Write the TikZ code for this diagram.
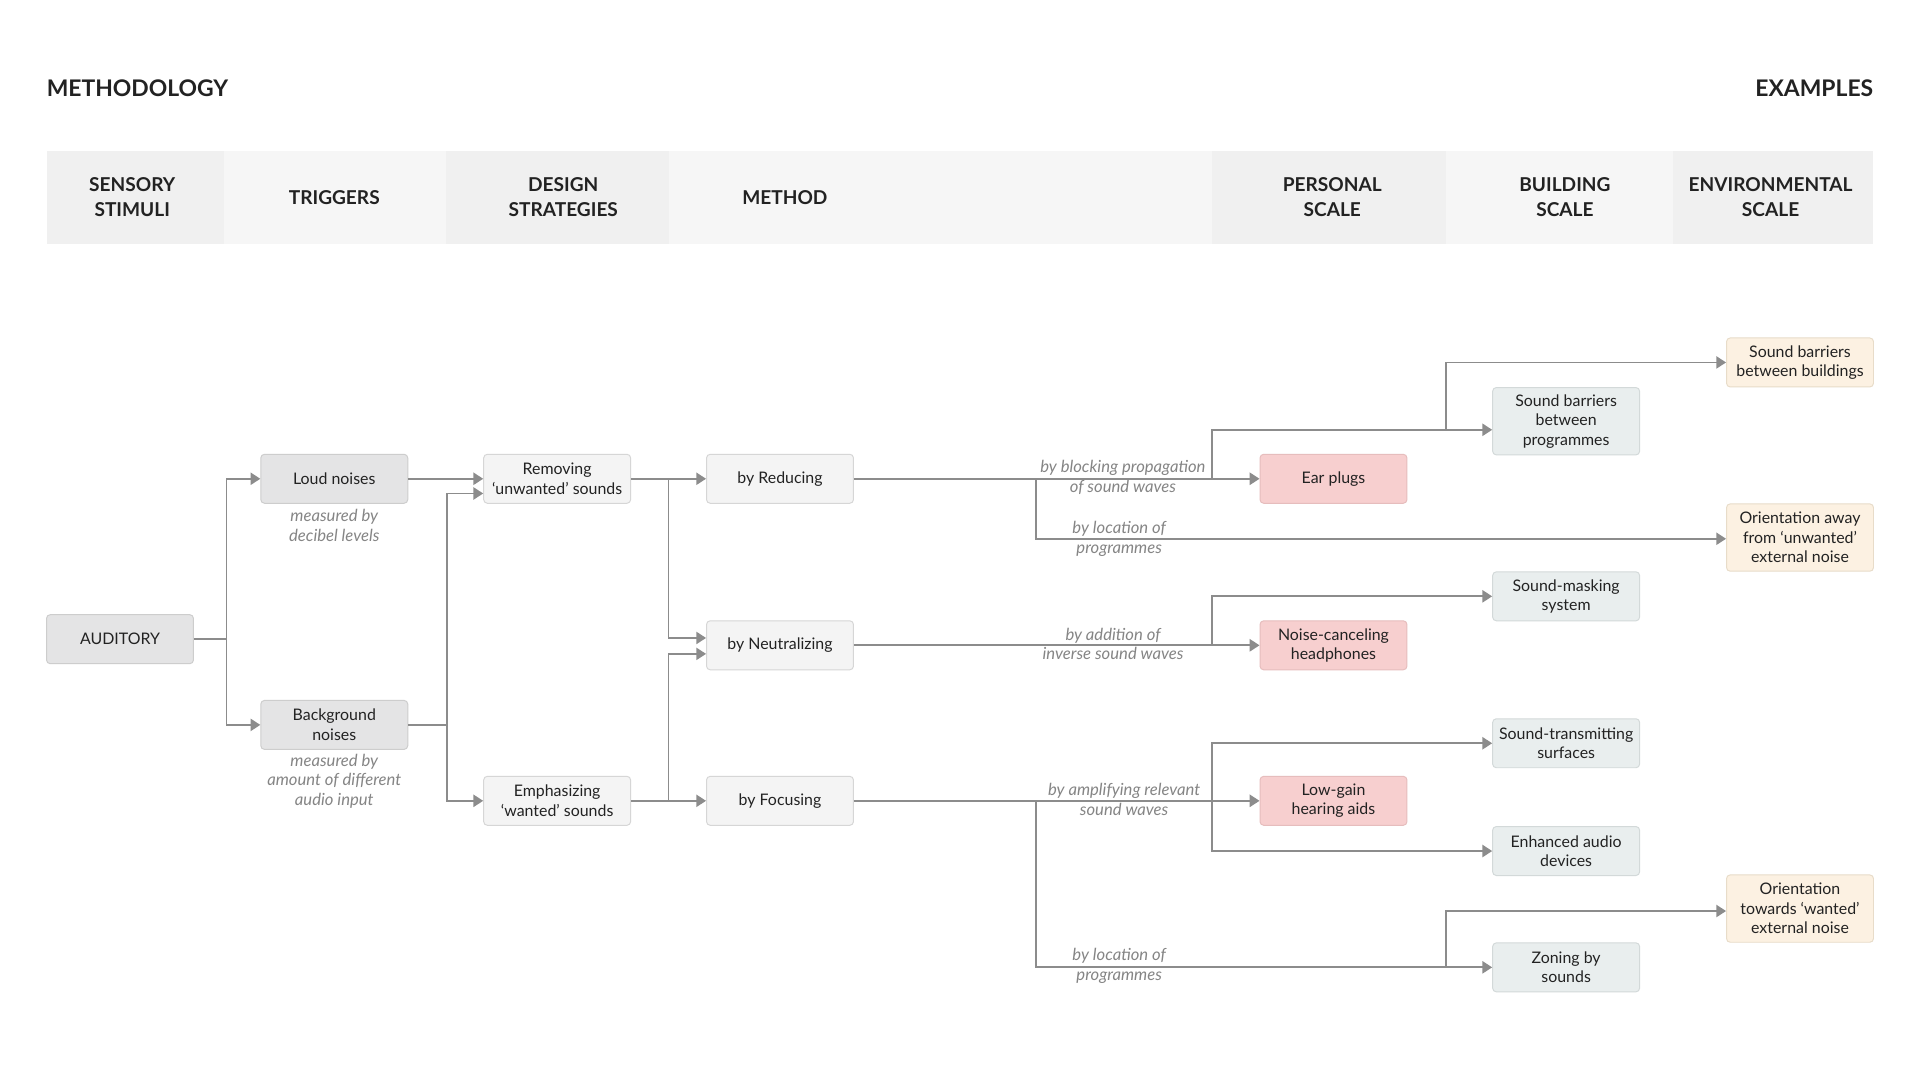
\documentclass[tikz,border=0pt]{standalone}
\usepackage{fontspec}
\setmainfont{Lato}
\usetikzlibrary{arrows.meta}

\definecolor{linegray}{HTML}{8C8C8C}
\definecolor{labelgray}{HTML}{858585}
\definecolor{textdark}{HTML}{222222}
\definecolor{hdrdark}{HTML}{F0F0F0}
\definecolor{hdrlight}{HTML}{F6F6F6}
\definecolor{stimfill}{HTML}{E4E4E5}
\definecolor{stimdraw}{HTML}{CDCDCD}
\definecolor{methfill}{HTML}{F4F4F4}
\definecolor{methdraw}{HTML}{D6D6D6}
\definecolor{persfill}{HTML}{F7CFCF}
\definecolor{persdraw}{HTML}{E6BDBD}
\definecolor{buildfill}{HTML}{E9EEEE}
\definecolor{builddraw}{HTML}{D3D9D9}
\definecolor{envfill}{HTML}{FCF1E2}
\definecolor{envdraw}{HTML}{E8DCC9}

\newcommand{\boxfont}{\fontsize{13}{16}\selectfont}
\newcommand{\labfont}{\fontsize{13.6}{16}\selectfont\itshape}
\newcommand{\hdrfont}{\fontsize{15.6}{20}\selectfont\bfseries}
\newcommand{\ttlfont}{\fontsize{18.7}{22}\selectfont\bfseries}

\tikzset{
  box/.style={rounded corners=3pt, line width=0.8pt, minimum width=120pt,
    minimum height=40pt, align=center, inner sep=2pt, font=\boxfont,
    text=textdark},
  tallbox/.style={box, minimum height=55pt},
  stim/.style={fill=stimfill, draw=stimdraw},
  meth/.style={fill=methfill, draw=methdraw},
  pers/.style={fill=persfill, draw=persdraw},
  build/.style={fill=buildfill, draw=builddraw},
  env/.style={fill=envfill, draw=envdraw},
  lab/.style={font=\labfont, text=labelgray, align=center, inner sep=0pt},
  hdr/.style={font=\hdrfont, text=textdark, align=center, inner sep=0pt},
  conn/.style={draw=linegray, line width=1.4pt},
  arr/.style={conn, -{Triangle[length=8pt,width=10pt]}},
}

\begin{document}
\begin{tikzpicture}[x=1pt,y=-1pt]
\useasboundingbox[fill=white] (0,0) rectangle (1568,882);

% titles
\node[font=\ttlfont, text=textdark, anchor=west, inner sep=0pt] (ttlmeth) at (38,72) {METHODOLOGY};
\node[font=\ttlfont, text=textdark, anchor=east, inner sep=0pt] (ttlex) at (1530,72) {EXAMPLES};

% header band
\fill[hdrdark]  (38,123)   rectangle (183,199);
\fill[hdrlight] (183,123)  rectangle (364,199);
\fill[hdrdark]  (364,123)  rectangle (546,199);
\fill[hdrlight] (546,123)  rectangle (990,199);
\fill[hdrdark]  (990,123)  rectangle (1181,199);
\fill[hdrlight] (1181,123) rectangle (1366,199);
\fill[hdrdark]  (1366,123) rectangle (1530,199);

\node[hdr] (h1) at (108,161)  {SENSORY\\STIMULI};
\node[hdr] (h2) at (273,161)  {TRIGGERS};
\node[hdr] (h3) at (460,161)  {DESIGN\\STRATEGIES};
\node[hdr] (h4) at (641,161)  {METHOD};
\node[hdr] (h5) at (1088,161) {PERSONAL\\SCALE};
\node[hdr] (h6) at (1278,161) {BUILDING\\SCALE};
\node[hdr] (h7) at (1446,161) {ENVIRONMENTAL\\SCALE};

% stimulus and triggers
\node[box, stim] (aud)  at (98,522)  {AUDITORY};
\node[box, stim] (loud) at (273,391) {Loud noises};
\node[box, stim] (bg)   at (273,592) {Background\\noises};
\node[lab] (loudlab) at (273,429) {measured by\\decibel levels};
\node[lab] (bglab)   at (273,638) {measured by\\amount of different\\audio input};

% design strategies
\node[box, meth] (rem) at (455,391) {Removing\\‘unwanted’ sounds};
\node[box, meth] (emp) at (455,654) {Emphasizing\\‘wanted’ sounds};

% methods
\node[box, meth] (red) at (637,391) {by Reducing};
\node[box, meth] (neu) at (637,527) {by Neutralizing};
\node[box, meth] (foc) at (637,654) {by Focusing};

% personal scale
\node[box, pers] (ear) at (1089,391) {Ear plugs};
\node[box, pers] (nc)  at (1089,527) {Noise-canceling\\headphones};
\node[box, pers] (lg)  at (1089,654) {Low-gain\\hearing aids};

% building scale
\node[tallbox, build] (sbp)  at (1279,344) {Sound barriers\\between\\programmes};
\node[box, build]     (mask) at (1279,487) {Sound-masking\\system};
\node[box, build]     (st)   at (1279,607) {Sound-transmitting\\surfaces};
\node[box, build]     (ea)   at (1279,695) {Enhanced audio\\devices};
\node[box, build]     (zone) at (1279,790) {Zoning by\\sounds};

% environmental scale
\node[box, env]     (sbb)  at (1470,296) {Sound barriers\\between buildings};
\node[tallbox, env] (away) at (1470,439) {Orientation away\\from ‘unwanted’\\external noise};
\node[tallbox, env] (tow)  at (1470,742) {Orientation\\towards ‘wanted’\\external noise};

% junction points
\coordinate (jaud) at (185,522);
\coordinate (jbg)  at (365,592);
\coordinate (jrem) at (546,391);
\coordinate (jemp) at (546,654);
\coordinate (jredA) at (846,391);
\coordinate (jredB) at (990,391);
\coordinate (jsbp) at (1181,351);
\coordinate (jneu) at (990,527);
\coordinate (jfocA) at (846,654);
\coordinate (jfocB) at (990,654);
\coordinate (jzone) at (1181,790);

% stimulus to triggers
\draw[conn] (aud.east) -- (jaud);
\draw[arr] (jaud) |- (loud.west);
\draw[arr] (jaud) |- (bg.west);

% triggers to strategies
\draw[arr] (loud.east) -- (rem.west);
\draw[conn] (bg.east) -- (jbg);
\draw[arr] (jbg) |- ([yshift=-12pt]rem.west);
\draw[arr] (jbg) |- (emp.west);

% strategies to methods
\draw[arr] (rem.east) -- (red.west);
\draw[arr] (jrem) |- ([yshift=6pt]neu.west);
\draw[arr] (emp.east) -- (foc.west);
\draw[arr] (jemp) |- ([yshift=-7pt]neu.west);

% reducing
\draw[arr] (red.east) -- (ear.west);
\draw[arr] (jredA) |- ([yshift=-1pt]away.west);
\draw[arr] (jredB) |- ([yshift=-7pt]sbp.west);
\draw[arr] (jsbp) |- (sbb.west);
\node[lab] (labblock) at (917,390) {by blocking propagation\\of sound waves};
\node[lab] (labloc1)  at (914,440) {by location of\\programmes};

% neutralizing
\draw[arr] (neu.east) -- (nc.west);
\draw[arr] (jneu) |- (mask.west);
\node[lab] (labadd) at (909,526) {by addition of\\inverse sound waves};

% focusing
\draw[arr] (foc.east) -- (lg.west);
\draw[arr] (jfocB) |- (st.west);
\draw[arr] (jfocB) |- (ea.west);
\draw[arr] (jfocA) |- (zone.west);
\draw[arr] (jzone) |- ([yshift=-2pt]tow.west);
\node[lab] (labamp)  at (918,653) {by amplifying relevant\\sound waves};
\node[lab] (labloc2) at (914,789) {by location of\\programmes};
\end{tikzpicture}
\end{document}
